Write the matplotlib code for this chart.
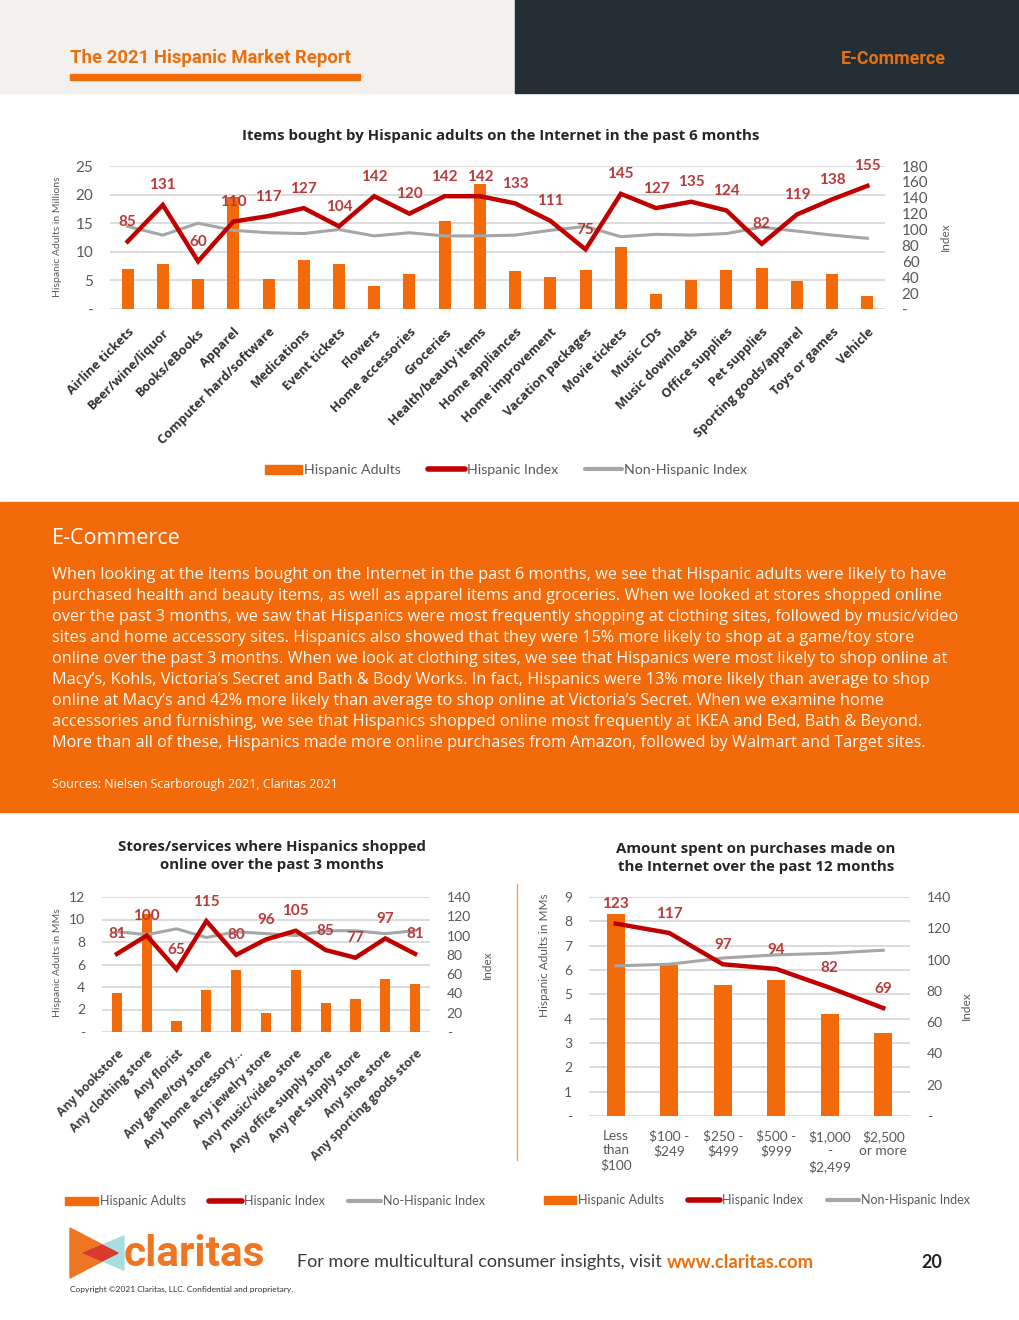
import numpy as np
import matplotlib
matplotlib.use('Agg')
import matplotlib.pyplot as plt
from matplotlib.patches import Rectangle, Polygon, Patch
from matplotlib.lines import Line2D

plt.rcParams['font.family'] = ['Lato', 'DejaVu Sans']
WIDE = ['Open Sans', 'DejaVu Sans']

W, H = 1020, 1320

# --- data: items bought on the Internet (past 6 months)
items = ['Airline tickets', 'Beer/wine/liquor', 'Books/eBooks', 'Apparel',
         'Computer hard/software', 'Medications', 'Event tickets', 'Flowers',
         'Home accessories', 'Groceries', 'Health/beauty items',
         'Home appliances', 'Home improvement', 'Vacation packages',
         'Movie tickets', 'Music CDs', 'Music downloads', 'Office supplies',
         'Pet supplies', 'Sporting goods/apparel', 'Toys or games', 'Vehicle']
items_adults = [7.0, 7.9, 5.3, 19.6, 5.2, 8.6, 7.9, 4.0, 6.1, 15.4, 21.9,
                6.6, 5.6, 6.8, 10.8, 2.6, 5.1, 6.8, 7.2, 4.9, 6.1, 2.3]
items_hisp_idx = [85, 131, 60, 110, 117, 127, 104, 142, 120, 142, 142,
                  133, 111, 75, 145, 127, 135, 124, 82, 119, 138, 155]
items_nonhisp_idx = [104, 93, 108, 99, 96, 95, 100, 92, 96, 92, 92,
                     93, 99, 104, 91, 94, 93, 95, 103, 98, 93, 89]

# --- data: stores/services shopped online (past 3 months)
stores = ['Any bookstore', 'Any clothing store', 'Any florist',
          'Any game/toy store', 'Any home accessory...', 'Any jewelry store',
          'Any music/video store', 'Any office supply store',
          'Any pet supply store', 'Any shoe store', 'Any sporting goods store']
stores_adults = [3.5, 10.5, 1.0, 3.7, 5.5, 1.7, 5.5, 2.6, 2.9, 4.7, 4.3]
stores_hisp_idx = [81, 100, 65, 115, 80, 96, 105, 85, 77, 97, 81]
stores_nonhisp_idx = [104, 101, 107, 98, 104, 102, 100, 105, 105, 102, 105]

# --- data: amount spent online (past 12 months)
spend = ['Less\nthan\n\\$100', '\\$100 -\n\\$249', '\\$250 -\n\\$499',
         '\\$500 -\n\\$999', '\\$1,000\n-\n\\$2,499', '\\$2,500\nor more']
spend_adults = [8.3, 6.2, 5.4, 5.6, 4.2, 3.4]
spend_hisp_idx = [123, 117, 97, 94, 82, 69]
spend_nonhisp_idx = [96, 97, 101, 103, 104, 106]

paragraph = [
    "When looking at the items bought on the Internet in the past 6 months, we see that Hispanic adults were likely to have",
    "purchased health and beauty items, as well as apparel items and groceries. When we looked at stores shopped online",
    "over the past 3 months, we saw that Hispanics were most frequently shopping at clothing sites, followed by music/video",
    "sites and home accessory sites. Hispanics also showed that they were 15% more likely to shop at a game/toy store",
    "online over the past 3 months. When we look at clothing sites, we see that Hispanics were most likely to shop online at",
    "Macy\u2019s, Kohls, Victoria\u2019s Secret and Bath & Body Works. In fact, Hispanics were 13% more likely than average to shop",
    "online at Macy\u2019s and 42% more likely than average to shop online at Victoria\u2019s Secret. When we examine home",
    "accessories and furnishing, we see that Hispanics shopped online most frequently at IKEA and Bed, Bath & Beyond.",
    "More than all of these, Hispanics made more online purchases from Amazon, followed by Walmart and Target sites.",
]

ORANGE = '#f26a0a'
BAND = '#f26a0a'
RED = '#c00000'
GRAY = '#a6a6a6'
LABEL_RED = '#b83a3a'
TICK = '#595959'
GRID = '#d9d9d9'


def px_rect(x0, y0, x1, y1):
    return [x0 / W, 1 - y1 / H, (x1 - x0) / W, (y1 - y0) / H]


def fx(x):
    return x / W


def fy(y):
    return 1 - y / H


fig = plt.figure(figsize=(W / 100, H / 100), dpi=100)
fig.patch.set_facecolor('white')


def frect(x0, y0, x1, y1, color):
    fig.patches.append(Rectangle((fx(x0), fy(y1)), (x1 - x0) / W, (y1 - y0) / H,
                                 transform=fig.transFigure, color=color, zorder=0))


def combo(rect, cats, adults, hisp, nonhisp, ymax, ystep, rmax, rstep,
          tick_fs=11, lab_fs=11, bar_w=0.34):
    ax = fig.add_axes(px_rect(*rect))
    x = np.arange(len(cats))
    ax.bar(x, adults, width=bar_w, color=ORANGE, zorder=2)
    ax.set_xlim(-0.5, len(cats) - 0.5)
    ax.set_ylim(0, ymax)
    yt = np.arange(0, ymax + 0.001, ystep)
    ax.set_yticks(yt)
    ax.set_yticklabels(['-'] + ['%g' % v for v in yt[1:]])
    ax.grid(axis='y', color=GRID, lw=1.3, zorder=0)
    ax.set_axisbelow(True)
    ax.tick_params(axis='y', length=0, pad=12, labelsize=tick_fs, labelcolor=TICK)
    ax.tick_params(axis='x', length=0)
    for s in ax.spines.values():
        s.set_visible(False)

    ax2 = ax.twinx()
    ax2.plot(x, nonhisp, color=GRAY, lw=2.2, zorder=3)
    ax2.plot(x, hisp, color=RED, lw=3.2, zorder=4, solid_joinstyle='miter')
    ax2.set_ylim(0, rmax)
    rt = np.arange(0, rmax + 0.001, rstep)
    ax2.set_yticks(rt)
    ax2.set_yticklabels(['-'] + ['%g' % v for v in rt[1:]])
    ax2.tick_params(axis='y', length=0, pad=12, labelsize=tick_fs, labelcolor=TICK)
    for s in ax2.spines.values():
        s.set_visible(False)
    for xi, v in zip(x, hisp):
        ax2.annotate(str(v), (xi, v), xytext=(0, 14), textcoords='offset points',
                     ha='center', va='center', fontsize=lab_fs,
                     fontweight='bold', color=LABEL_RED, zorder=5)
    return ax, ax2


def legend(cx, cy, third, fs=9.5):
    handles = [Patch(color=ORANGE),
               Line2D([], [], color=RED, lw=4, solid_capstyle='round'),
               Line2D([], [], color=GRAY, lw=3, solid_capstyle='round')]
    fig.legend(handles, ['Hispanic Adults', 'Hispanic Index', third],
               loc='center', bbox_to_anchor=(fx(cx), fy(cy)), ncol=3,
               frameon=False, fontsize=fs, labelcolor=TICK, handlelength=2.6,
               handleheight=0.6, handletextpad=0.15, columnspacing=1.9)


# ---------------- header
frect(0, 0, 515, 93, '#f3f1ef')
frect(515, 0, W, 93, '#242e37')
frect(70, 74, 360, 80, ORANGE)
fig.text(fx(70), fy(58), 'The 2021 Hispanic Market Report', color='#e8700f',
         fontsize=13.3, fontweight='bold', va='center', ha='left',
         family=['Roboto', 'DejaVu Sans'])
fig.text(fx(946), fy(59), 'E-Commerce', color='#e8700f', fontsize=12.8,
         fontweight='bold', va='center', ha='right', family=['Roboto', 'DejaVu Sans'])

# ---------------- top chart
fig.text(fx(501), fy(136), 'Items bought by Hispanic adults on the Internet in the past 6 months',
         ha='center', va='center', fontsize=10.8, fontweight='bold', color='#262626',
         family=WIDE)
ax, ax2 = combo((110, 166, 885, 309), items, items_adults, items_hisp_idx,
                items_nonhisp_idx, 25, 5, 180, 20, tick_fs=11, lab_fs=11)
ax.set_xticks(np.arange(len(items)))
ax.set_xticklabels(items, rotation=45, ha='right', va='top', rotation_mode='anchor',
                   fontsize=9.2, fontweight='bold', color='#333333', family=WIDE)
ax.tick_params(axis='x', pad=12)
fig.text(fx(58), fy(237), 'Hispanic Adults in Millions', rotation=90, ha='center',
         va='center', fontsize=7.5, color=TICK)
fig.text(fx(945), fy(237), 'Index', rotation=90, ha='center', va='center',
         fontsize=8.5, color=TICK)
legend(506, 470, 'Non-Hispanic Index', fs=10.2)

# ---------------- orange band
frect(0, 502, W, 812, BAND)
fig.text(fx(52), fy(538), 'E-Commerce', color='white', fontsize=15.5, va='center',
         family=WIDE)
for i, line in enumerate(paragraph):
    fig.text(fx(52), fy(575 + 21 * i), line, color='#fffaf5', fontsize=11.7,
             va='center', ha='left', family=WIDE)
fig.text(fx(52), fy(784), 'Sources: Nielsen Scarborough 2021, Claritas 2021',
         color='white', fontsize=8.9, va='center', family=WIDE)

# ---------------- bottom-left chart
fig.text(fx(272), fy(856), 'Stores/services where Hispanics shopped\nonline over the past 3 months',
         ha='center', va='center', fontsize=10.8, fontweight='bold', color='#262626',
         linespacing=1.3, family=WIDE)
bl, bl2 = combo((102, 897, 430, 1032), stores, stores_adults, stores_hisp_idx,
                stores_nonhisp_idx, 12, 2, 140, 20, tick_fs=10, lab_fs=11)
bl.set_xticks(np.arange(len(stores)))
bl.set_xticklabels(stores, rotation=45, ha='right', va='top', rotation_mode='anchor',
                   fontsize=8.8, fontweight='bold', color='#404040', family=WIDE)
bl.tick_params(axis='x', pad=11)
fig.text(fx(58), fy(963), 'Hispanic Adults in MMs', rotation=90, ha='center',
         va='center', fontsize=7.5, color=TICK)
fig.text(fx(487), fy(965), 'Index', rotation=90, ha='center', va='center',
         fontsize=8.5, color=TICK)
legend(275, 1201, 'No-Hispanic Index', fs=9)

# divider
fig.lines.append(Line2D([fx(517), fx(517)], [fy(884), fy(1160)], color='#f0a060',
                        lw=1, transform=fig.transFigure))

# ---------------- bottom-right chart
fig.text(fx(756), fy(858), 'Amount spent on purchases made on\nthe Internet over the past 12 months',
         ha='center', va='center', fontsize=10.8, fontweight='bold', color='#262626',
         linespacing=1.3, family=WIDE)
br, br2 = combo((589, 897, 910, 1116), spend, spend_adults, spend_hisp_idx,
                spend_nonhisp_idx, 9, 1, 140, 20, tick_fs=10, lab_fs=11)
br.set_xticks(np.arange(len(spend)))
br.set_xticklabels(spend, fontsize=9.8, color=TICK, linespacing=1.25)
br.tick_params(axis='x', pad=10)
fig.text(fx(545), fy(955), 'Hispanic Adults in MMs', rotation=90, ha='center',
         va='center', fontsize=8.5, color=TICK)
fig.text(fx(966), fy(1006), 'Index', rotation=90, ha='center', va='center',
         fontsize=8.5, color=TICK)
legend(757, 1200, 'Non-Hispanic Index', fs=9)

# ---------------- footer
def poly(pts, color):
    fig.patches.append(Polygon([(fx(a), fy(b)) for a, b in pts], closed=True,
                               transform=fig.transFigure, color=color, zorder=2))


poly([(70, 1228), (70, 1278), (118, 1253)], '#ee7623')
poly([(124, 1236), (124, 1270), (83, 1253)], '#a9dde0')
poly([(83, 1253), (102, 1245), (118, 1253), (102, 1261)], '#d93a2f')
fig.text(fx(124), fy(1254), 'claritas', color='#ee7623', fontsize=30.5,
         fontweight='bold', va='center', ha='left', family=['Roboto', 'DejaVu Sans'])
fig.text(fx(70), fy(1289), 'Copyright \u00a92021 Claritas, LLC. Confidential and proprietary.',
         fontsize=6, color='#333333', va='center')
fig.text(fx(297), fy(1262), 'For more multicultural consumer insights, visit',
         fontsize=13, color='#3a3a3a', va='center')
fig.text(fx(667), fy(1262), 'www.claritas.com', fontsize=13.3, color='#e8700f',
         fontweight='bold', va='center')
fig.text(fx(942), fy(1262), '20', fontsize=13, color='#262626', fontweight='bold',
         va='center', ha='right')

fig.savefig('out.png', dpi=100)
